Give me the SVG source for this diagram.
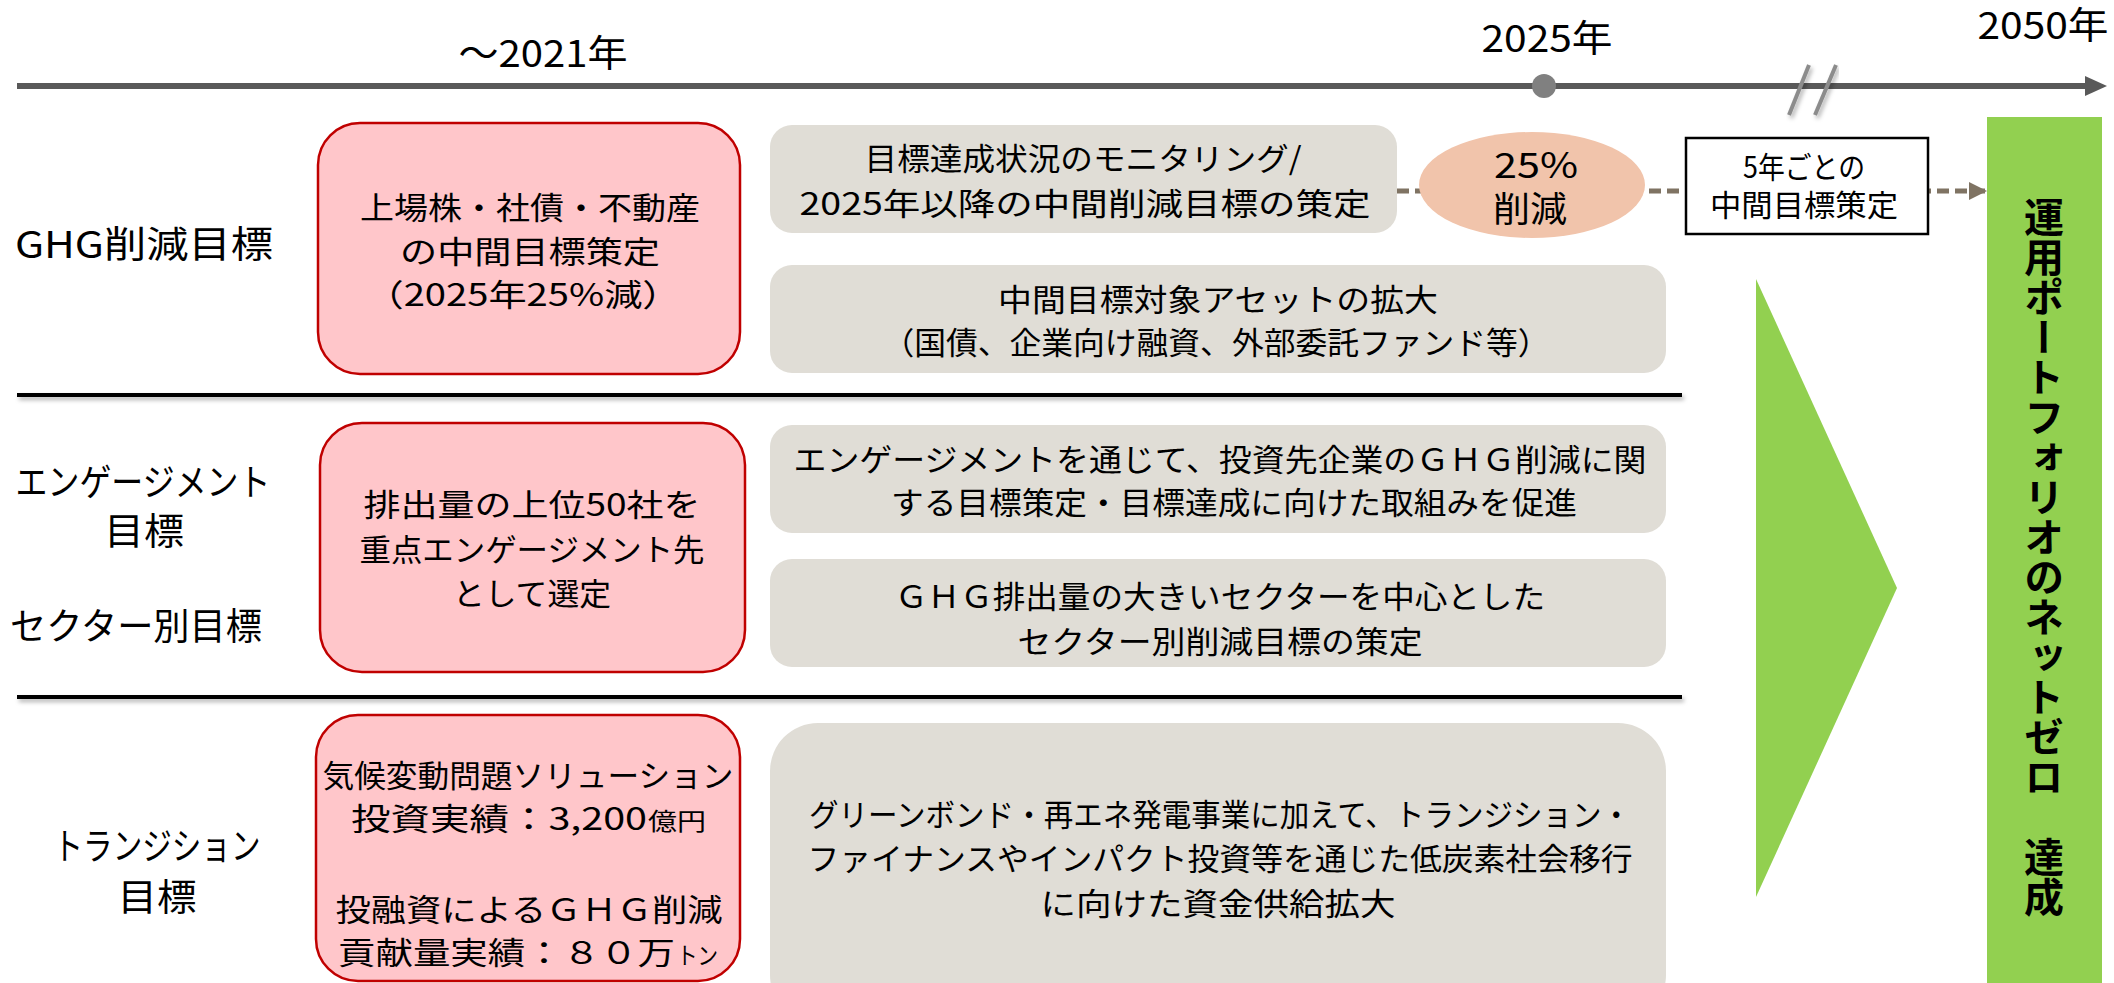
<svg xmlns="http://www.w3.org/2000/svg" width="2114" height="983" viewBox="0 0 2114 983">
<style>
text{font-family:"Noto Sans CJK JP","Noto Sans",sans-serif;fill:#000;}
.lbl{font-size:37px;text-anchor:middle;}
.yr{font-size:37px;text-anchor:middle;}
.bx{font-size:31px;text-anchor:middle;}
.sm{font-size:24px;}
.pink{fill:#FFC6CA;stroke:#C00000;stroke-width:2.5;}
.gray{fill:#E0DDD6;}
.sep{stroke:#000;stroke-width:4;fill:none;}
</style>
<defs>
<filter id="sh" x="-5%" y="-100%" width="110%" height="400%">
<feDropShadow dx="2" dy="3" stdDeviation="2" flood-color="#000" flood-opacity="0.3"/>
</filter>
<marker id="arr" viewBox="0 0 10 10" refX="10" refY="5" markerWidth="3.6" markerHeight="3.6" orient="auto" markerUnits="strokeWidth">
<path d="M0,0 L10,5 L0,10 Z" fill="#7F7363"/>
</marker>
</defs>

<g id="timeline">
<line x1="17" y1="86" x2="2088" y2="86" stroke="#595959" stroke-width="6"/>
<polygon points="2085,76 2107,86 2085,96" fill="#595959"/>
<circle cx="1544" cy="86" r="12" fill="#808080"/>
<g filter="url(#sh)">
<line x1="1809" y1="65" x2="1789" y2="115" stroke="#8C8C8C" stroke-width="4"/>
<line x1="1836" y1="65" x2="1815" y2="115" stroke="#8C8C8C" stroke-width="4"/>
</g>
<text class="yr" x="543" y="67" textLength="169" lengthAdjust="spacingAndGlyphs">～2021年</text>
<text class="yr" x="1547" y="52" textLength="131" lengthAdjust="spacingAndGlyphs">2025年</text>
<text class="yr" x="2043" y="39" textLength="131" lengthAdjust="spacingAndGlyphs">2050年</text>
</g>

<g id="separators" filter="url(#sh)">
<line class="sep" x1="17" y1="395" x2="1682" y2="395"/>
<line class="sep" x1="17" y1="697" x2="1682" y2="697"/>
</g>

<g id="row-labels">
<text class="lbl" x="144" y="258" textLength="258" lengthAdjust="spacingAndGlyphs">GHG削減目標</text>
<text class="lbl" x="143" y="496" textLength="255" lengthAdjust="spacingAndGlyphs">エンゲージメント</text>
<text class="lbl" x="144" y="545" textLength="80" lengthAdjust="spacingAndGlyphs">目標</text>
<text class="lbl" x="136" y="640" textLength="252" lengthAdjust="spacingAndGlyphs">セクター別目標</text>
<text class="lbl" x="157" y="860" textLength="207" lengthAdjust="spacingAndGlyphs">トランジション</text>
<text class="lbl" x="157" y="911" textLength="79" lengthAdjust="spacingAndGlyphs">目標</text>
</g>

<g id="connectors">
<line x1="1397" y1="191" x2="1987" y2="191" stroke="#7F7363" stroke-width="5" stroke-dasharray="12 6" marker-end="url(#arr)"/>
</g>

<g id="pink1">
<rect class="pink" x="318" y="123" width="422" height="251" rx="42"/>
<text class="bx" x="530" y="219" textLength="340" lengthAdjust="spacingAndGlyphs">上場株・社債・不動産</text>
<text class="bx" x="530" y="263" textLength="260" lengthAdjust="spacingAndGlyphs">の中間目標策定</text>
<text class="bx" x="523" y="306" textLength="315" lengthAdjust="spacingAndGlyphs">（2025年25%減）</text>
</g>

<g id="pink2">
<rect class="pink" x="320" y="423" width="425" height="249" rx="42"/>
<text class="bx" x="532" y="516" textLength="337" lengthAdjust="spacingAndGlyphs">排出量の上位50社を</text>
<text class="bx" x="532" y="561" textLength="345" lengthAdjust="spacingAndGlyphs">重点エンゲージメント先</text>
<text class="bx" x="532" y="605" textLength="158" lengthAdjust="spacingAndGlyphs">として選定</text>
</g>

<g id="pink3">
<rect class="pink" x="316" y="715" width="424" height="266" rx="42"/>
<text class="bx" x="528" y="787" textLength="411" lengthAdjust="spacingAndGlyphs">気候変動問題ソリューション</text>
<text class="bx" x="351" y="830" style="text-anchor:start" textLength="296" lengthAdjust="spacingAndGlyphs">投資実績：3,200</text>
<text class="bx sm" x="648" y="830" style="text-anchor:start" textLength="58" lengthAdjust="spacingAndGlyphs">億円</text>
<text class="bx" x="529" y="921" textLength="387" lengthAdjust="spacingAndGlyphs">投融資によるＧＨＧ削減</text>
<text class="bx" x="338" y="964" style="text-anchor:start" textLength="337" lengthAdjust="spacingAndGlyphs">貢献量実績：８０万</text>
<text class="bx sm" x="677" y="964" style="text-anchor:start" textLength="41" lengthAdjust="spacingAndGlyphs">トン</text>
</g>

<g id="gray1">
<rect class="gray" x="770" y="125" width="627" height="108" rx="22"/>
<text class="bx" x="1083" y="170" textLength="437" lengthAdjust="spacingAndGlyphs">目標達成状況のモニタリング/</text>
<text class="bx" x="1085" y="215" textLength="571" lengthAdjust="spacingAndGlyphs">2025年以降の中間削減目標の策定</text>
</g>

<g id="gray2">
<rect class="gray" x="770" y="265" width="896" height="108" rx="22"/>
<text class="bx" x="1218" y="311" textLength="440" lengthAdjust="spacingAndGlyphs">中間目標対象アセットの拡大</text>
<text class="bx" x="1216" y="354" textLength="667" lengthAdjust="spacingAndGlyphs">（国債、企業向け融資、外部委託ファンド等）</text>
</g>

<g id="gray3">
<rect class="gray" x="770" y="425" width="896" height="108" rx="22"/>
<text class="bx" x="1220" y="471" textLength="853" lengthAdjust="spacingAndGlyphs">エンゲージメントを通じて、投資先企業のＧＨＧ削減に関</text>
<text class="bx" x="1234" y="514" textLength="686" lengthAdjust="spacingAndGlyphs">する目標策定・目標達成に向けた取組みを促進</text>
</g>

<g id="gray4">
<rect class="gray" x="770" y="559" width="896" height="108" rx="22"/>
<text class="bx" x="1220" y="608" textLength="650" lengthAdjust="spacingAndGlyphs">ＧＨＧ排出量の大きいセクターを中心とした</text>
<text class="bx" x="1220" y="653" textLength="405" lengthAdjust="spacingAndGlyphs">セクター別削減目標の策定</text>
</g>

<g id="gray5">
<rect class="gray" x="770" y="723" width="896" height="300" rx="48"/>
<text class="bx" x="1220" y="826" textLength="822" lengthAdjust="spacingAndGlyphs">グリーンボンド・再エネ発電事業に加えて、トランジション・</text>
<text class="bx" x="1220" y="870" textLength="825" lengthAdjust="spacingAndGlyphs">ファイナンスやインパクト投資等を通じた低炭素社会移行</text>
<text class="bx" x="1218" y="915" textLength="355" lengthAdjust="spacingAndGlyphs">に向けた資金供給拡大</text>
</g>

<g id="reduction25">
<ellipse cx="1532" cy="185" rx="113" ry="53" fill="#F1C4AB"/>
<text x="1536" y="178" style="font-size:35px;text-anchor:middle" textLength="84" lengthAdjust="spacingAndGlyphs">25%</text>
<text x="1530" y="222" style="font-size:35px;text-anchor:middle" textLength="74" lengthAdjust="spacingAndGlyphs">削減</text>
</g>

<g id="interim">
<rect x="1686" y="138" width="242" height="96" fill="#fff" stroke="#000" stroke-width="2.5"/>
<text x="1804" y="178" style="font-size:30px;text-anchor:middle" textLength="122" lengthAdjust="spacingAndGlyphs">5年ごとの</text>
<text x="1804" y="216" style="font-size:30px;text-anchor:middle" textLength="188" lengthAdjust="spacingAndGlyphs">中間目標策定</text>
</g>

<g id="chevron">
<polygon points="1756,279 1897,588 1756,897" fill="#92D050"/>
</g>

<g id="netzero">
<rect x="1987" y="117" width="115" height="866" fill="#92D050"/>
<text x="2044" y="557" style="font-size:40px;font-weight:bold;writing-mode:vertical-rl;text-anchor:middle">運用ポートフォリオのネットゼロ　達成</text>
</g>
</svg>
